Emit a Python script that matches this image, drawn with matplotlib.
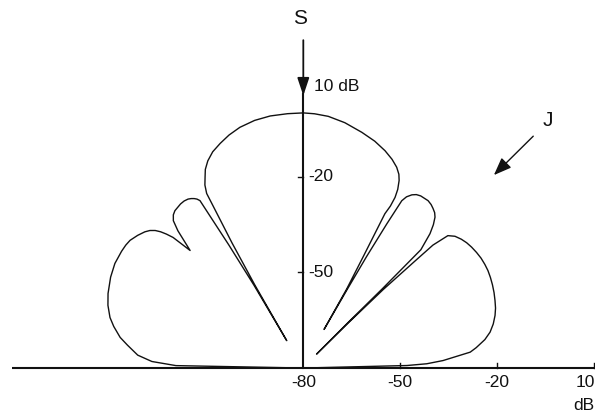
"""
Adapted array response in the half plane, drawn on a log-polar (dB) scale.
"""

import numpy as np
import matplotlib.pyplot as plt

# Pattern trace, one line per lobe: direction from broadside (deg, + towards J)
angle_deg = [
    # left sidelobe
    -90.0, -88.9, -87.5, -85.5, -82.5, -80.4, -77.5, -75.2, -72.0, -68.9, -64.5, -60.7,
    -57.0, -55.0, -53.3, -51.0, -49.0, -47.8, -46.8, -46.0, -45.3, -44.6, -43.6,
    # small left sidelobe
    -42.1, -41.1, -40.0, -38.9, -36.5, -35.2, -34.0, -33.2, -32.5, -31.9, -31.4,
    -30.9, -30.5, -30.9,
    # main beam
    -30.0, -29.4, -28.8, -28.7, -28.0, -27.0, -26.0, -24.5, -22.5, -20.1, -17.5,
    -14.6, -11.0, -7.4, -3.5, 0.0, 2.5, 5.6, 9.5, 13.8, 17.3, 20.4, 22.8, 24.7,
    26.0, 26.8, 27.6, 28.0, 28.0, 27.6, 28.0, 28.5, 28.0,
    # small right sidelobe
    28.9, 29.3, 29.8, 30.2, 30.8, 31.8, 32.8, 34.0, 36.4, 37.7, 38.8, 39.9, 40.8,
    41.9, 43.0, 44.5, 44.6, 44.2, 43.3,
    # right sidelobe
    44.6, 45.2, 45.9, 46.2, 47.2, 48.7, 50.5, 52.2, 54.0, 56.0, 58.0, 60.0, 61.9,
    63.9, 66.0, 68.2, 70.4, 72.5, 74.5, 76.8, 79.0, 81.0, 83.2, 84.5, 86.9, 88.0,
    88.6, 90.0,
]
level_db = [
    -80.0, -40.5, -33.0, -28.5, -25.0, -22.4, -19.8, -18.0, -16.3, -15.1, -13.8, -13.0,
    -12.8, -12.8, -13.0, -13.9, -14.9, -15.8, -17.0, -18.5, -20.3, -22.5, -29.1,
    -22.0, -18.7, -17.3, -16.6, -16.0, -15.9, -16.1, -16.5, -17.0, -17.6, -18.5,
    -35.0, -50.0, -70.0,
    -50.0, -35.0, -21.1, -17.6, -15.0, -12.9, -10.7, -8.6, -6.6, -5.0, -3.4,
    -2.0, -0.9, -0.3, -0.1, 0.0, -0.2, -0.7, -2.0, -3.9, -5.5, -7.3, -9.0, -10.7,
    -12.4, -14.1, -16.8, -19.4, -22.5, -25.4, -40.0, -51.8, -66.3,
    -52.0, -40.0, -28.0, -19.3, -17.5, -16.1, -15.3, -14.9, -14.8, -15.2, -15.8, -16.5, -17.5,
    -19.6, -22.4, -28.0, -45.0, -60.0, -74.0,
    -60.0, -45.0, -32.0, -24.3, -18.9, -17.4, -16.5, -15.9, -15.5, -15.2, -15.0, -15.0, -15.1,
    -15.4, -15.8, -16.3, -16.9, -17.5, -18.3, -19.5, -21.0, -23.0, -26.0, -28.0, -36.6, -41.7,
    -47.9, -80.0,
]

# Radial scale
floor_db = -80
x_ticks_db = [-80, -50, -20, 10]
y_ticks_db = [-20, -50]
ink = '#111111'
font = dict(family='Liberation Sans', color=ink)

theta = np.radians(angle_deg)
r = np.clip(np.array(level_db) - floor_db, 0, None)
x = r * np.sin(theta)
y = r * np.cos(theta)

fig = plt.figure(figsize=(5.95, 4.13), dpi=100)
ax = fig.add_axes([0, 0, 1, 1])
ax.set_xlim(-94.05, 90.45)
ax.set_ylim(-14.1, 115.4)
ax.axis('off')

# Pattern
ax.plot(x, y, color=ink, lw=1.0, solid_joinstyle='round')

# Horizontal radial axis with tick marks
ax.plot([-90.3, 95], [0, 0], color=ink, lw=1.5, solid_capstyle='butt')
for v in x_ticks_db[1:]:
    ax.plot([v - floor_db] * 2, [0, 1.6], color=ink, lw=1.0)
for v in x_ticks_db[:-1]:
    ax.text(v - floor_db, -4.6, f'{v}', ha='center', va='center', fontsize=12.5, **font)
# last label sits at the right border
ax.text(90.3, -4.6, f'{x_ticks_db[-1]}', ha='right', va='center', fontsize=12.5, **font)
ax.text(90.3, -11.8, 'dB', ha='right', va='center', fontsize=12.5, **font)

# Vertical axis (signal direction) with arrow
ax.plot([0, 0], [0, 86], color=ink, lw=1.5)
ax.annotate('', xy=(0, 85.4), xytext=(0, 102.8),
            arrowprops=dict(arrowstyle='-|>,head_length=0.9,head_width=0.3',
                            mutation_scale=12, color=ink, lw=1.3,
                            shrinkA=0, shrinkB=0))
for v in y_ticks_db:
    ax.plot([-1.8, 0], [v - floor_db] * 2, color=ink, lw=1.0)
    ax.text(1.4, v - floor_db, f'{v}', ha='left', va='center', fontsize=12.5, **font)
ax.text(3.2, 88.2, '10 dB', ha='left', va='center', fontsize=12.5, **font)
ax.text(-1.0, 109.7, 'S', ha='center', va='center', fontsize=15, **font)

# Jammer direction
ax.annotate('', xy=(59.1, 60.5), xytext=(71.3, 72.7),
            arrowprops=dict(arrowstyle='-|>,head_length=0.9,head_width=0.35',
                            mutation_scale=12, color=ink, lw=1.0,
                            shrinkA=0, shrinkB=0))
ax.text(75.9, 77.7, 'J', ha='center', va='center', fontsize=15, **font)

fig.savefig('out.png', dpi=100, facecolor='white')
